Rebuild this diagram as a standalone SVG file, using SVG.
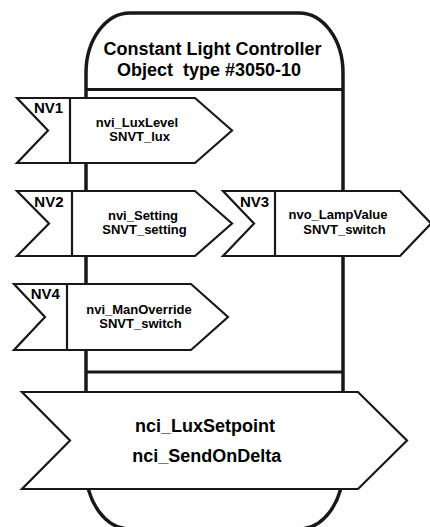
<svg xmlns="http://www.w3.org/2000/svg" width="430" height="527" viewBox="0 0 430 527">
  <style>
    .body { fill: #ffffff; stroke: #1a1718; stroke-width: 3.5; }
    .sep { stroke: #1a1718; stroke-width: 3.2; fill: none; }
    .nv { fill: #ffffff; stroke: #1a1718; stroke-width: 2.2; stroke-linejoin: miter; }
    .div { stroke: #1a1718; stroke-width: 2.2; }
    text { font-family: "Liberation Sans", Arial, sans-serif; font-weight: bold; fill: #000000; }
    .title { font-size: 18px; text-anchor: middle; }
    .lbl { font-size: 15px; }
    .sm { font-size: 13px; text-anchor: middle; }
    .big { font-size: 18px; text-anchor: middle; }
  </style>
  <rect width="430" height="527" fill="#ffffff"/>
  <g id="object-body">
    <path class="body" d="M 130 13 H 299 A 44 60 0 0 1 343 73 V 469 A 44 60 0 0 1 299 529 H 130 A 44 60 0 0 1 86 469 V 73 A 44 60 0 0 1 130 13 Z"/>
    <line class="sep" x1="86" y1="89.5" x2="343" y2="89.5"/>
    <line class="sep" x1="86" y1="372" x2="343" y2="372"/>
    <text class="title" x="212.5" y="55">Constant Light Controller</text>
    <text class="title" x="209" y="76" xml:space="preserve">Object  type #3050-10</text>
  </g>
  <g id="connectors"></g>
  <g id="nv1">
    <polygon class="nv" points="17,98 195,98 232,130.5 195,163 17,163 48,130.5"/>
    <line class="div" x1="70" y1="98" x2="70" y2="163"/>
    <text class="lbl" x="34" y="112.5">NV1</text>
    <text class="sm" x="137" y="126.5">nvi_LuxLevel</text>
    <text class="sm" x="139.7" y="141">SNVT_lux</text>
  </g>
  <g id="nv2">
    <polygon class="nv" points="17,191 195,191 232,223.5 195,256 17,256 49,223.5"/>
    <line class="div" x1="72" y1="191" x2="72" y2="256"/>
    <text class="lbl" x="34.3" y="206.5">NV2</text>
    <text class="sm" x="143" y="219.5">nvi_Setting</text>
    <text class="sm" x="144.5" y="234">SNVT_setting</text>
  </g>
  <g id="nv3">
    <polygon class="nv" points="223,191 400,191 431,223.5 400,256 223,256 254,223.5"/>
    <line class="div" x1="275" y1="191" x2="275" y2="256"/>
    <text class="lbl" x="240" y="206.5">NV3</text>
    <text class="sm" x="338" y="219">nvo_LampValue</text>
    <text class="sm" x="344.5" y="233.5">SNVT_switch</text>
  </g>
  <g id="nv4">
    <polygon class="nv" points="14,284 191,284 228,317 191,350 14,350 45,317"/>
    <line class="div" x1="67" y1="284" x2="67" y2="350"/>
    <text class="lbl" x="30.7" y="299">NV4</text>
    <text class="sm" x="139" y="314">nvi_ManOverride</text>
    <text class="sm" x="140.5" y="328.3">SNVT_switch</text>
  </g>
  <g id="config">
    <polygon class="nv" points="22,392 358,392 407,440.5 358,489 22,489 70,440.5"/>
    <text class="big" x="205" y="431.7">nci_LuxSetpoint</text>
    <text class="big" x="206.7" y="461.7">nci_SendOnDelta</text>
  </g>
</svg>
